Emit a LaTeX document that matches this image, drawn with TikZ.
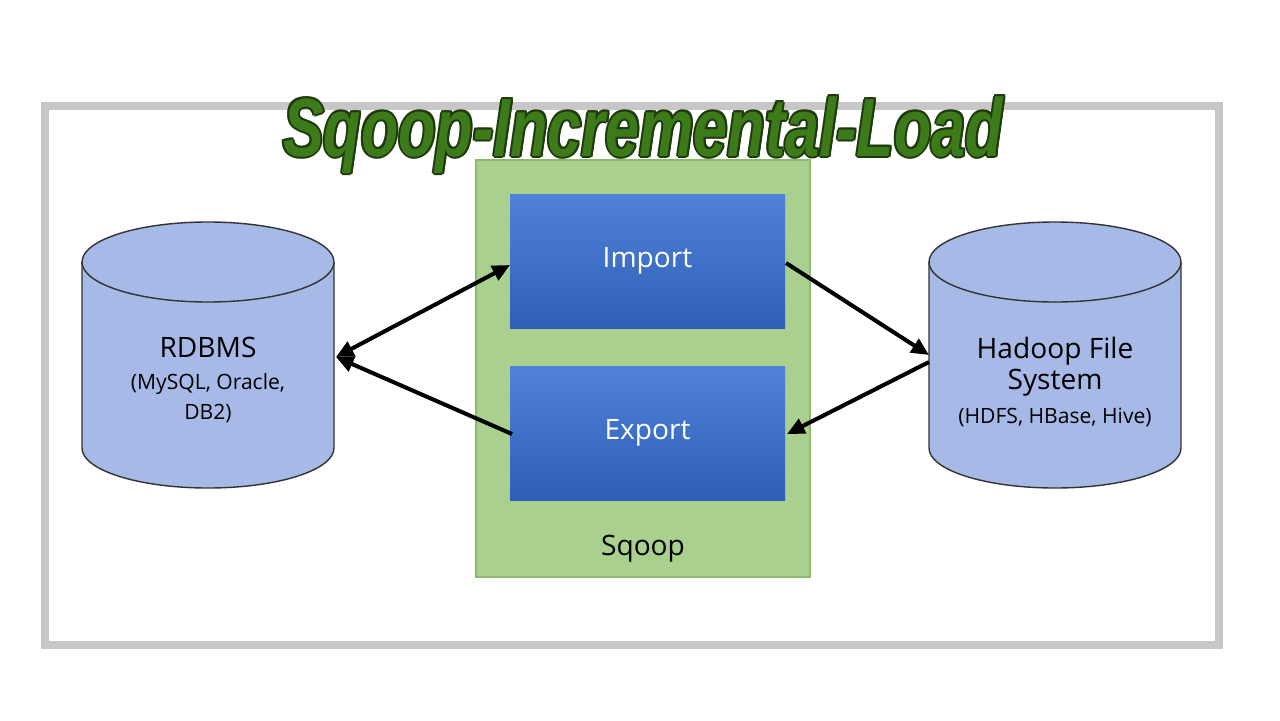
\documentclass[tikz,border=0pt]{standalone}
\usepackage{fontspec}
\usepackage{graphicx}
\setmainfont{Open Sans}
\newfontfamily\ttl{Liberation Sans}
\definecolor{ttlgreen}{HTML}{3C7A1A}
\definecolor{ttldark}{HTML}{1E3A0C}
\definecolor{sqfill}{HTML}{A9D08E}
\definecolor{sqdraw}{HTML}{8DBA72}
\definecolor{cylfill}{HTML}{A7B9E6}
\definecolor{btop}{HTML}{4F82D8}
\definecolor{bbot}{HTML}{2E5FB6}
\tikzset{
 box/.style={draw=none, top color=btop, bottom color=bbot, minimum width=275*0.02cm, minimum height=134*0.02cm, text=white, font=\fontsize{16}{18}\selectfont},
 arr/.style={line width=2.3pt, -{Stealth[length=10pt,width=9pt,inset=0pt]}},
 cyl/.style={draw=black!80, fill=cylfill, line width=0.8pt},
}
\usetikzlibrary{arrows.meta}
\newcommand{\ttltext}{\scalebox{0.74}[1]{\ttl\bfseries\itshape\fontsize{47}{50}\selectfont Sqoop-Incremental-Load}}
\begin{document}
\begin{tikzpicture}[x=0.02cm,y=-0.02cm]
\useasboundingbox (0,0) rectangle (1280,720);
\fill[white] (0,0) rectangle (1280,720);
\draw[line width=5pt, draw=black!22] (45,106) rectangle (1219,645);
% sqoop box
\node[draw=sqdraw, fill=sqfill, line width=1pt, minimum width=334*0.02cm, minimum height=417*0.02cm] (sq) at (643,368.5) {};
\node (sqlbl) at (643,549) {\fontsize{16}{18}\selectfont Sqoop};
\node[box] (imp) at (647.5,261) {Import};
\node[box] (exp) at (647.5,433) {Export};
% cylinders
\foreach \cx in {208,1055}{
 \fill[cylfill] (\cx-126,262) -- (\cx-126,448) arc[start angle=180,end angle=0,x radius=126,y radius=40] -- (\cx+126,262) -- cycle;
 \draw[black!80,line width=0.8pt] (\cx-126,262) -- (\cx-126,448) arc[start angle=180,end angle=0,x radius=126,y radius=40] -- (\cx+126,262);
 \draw[cyl] (\cx,262) ellipse[x radius=126,y radius=40];
}
\node[align=center] (rdb) at (208,380) {\fontsize{16}{22}\selectfont RDBMS\\[6pt]\fontsize{12}{16}\selectfont (MySQL, Oracle,\\[5pt] \fontsize{12}{16}\selectfont DB2)};
\node[align=center] (hdfs) at (1055,382) {\fontsize{16}{22}\selectfont Hadoop File\\[1pt] \fontsize{16}{22}\selectfont System\\[6pt]\fontsize{12}{16}\selectfont (HDFS, HBase, Hive)};
\coordinate (lp) at (336,357);
\coordinate (rp1) at (929,355);
\coordinate (rp2) at (929,362);
\coordinate (il) at (510,265);
\coordinate (el) at (512,434);
\coordinate (ir) at (786,263);
\coordinate (er) at (787,434);
\draw[arr, {Stealth[length=10pt,width=9pt,inset=0pt]}-{Stealth[length=10pt,width=9pt,inset=0pt]}] (lp) -- (il);
\draw[arr] (el) -- (lp);
\draw[arr] (ir) -- (rp1);
\draw[arr] (rp2) -- (er);
% title
\foreach \dx/\dy in {-2/0,2/0,0/-2,0/2,-1.5/-1.5,1.5/1.5,-1.5/1.5,1.5/-1.5}
 \node[text=ttldark] at (643+\dx,135+\dy) {\ttltext};
\node[text=ttlgreen] (title) at (643,135) {\ttltext};
\end{tikzpicture}
\end{document}
